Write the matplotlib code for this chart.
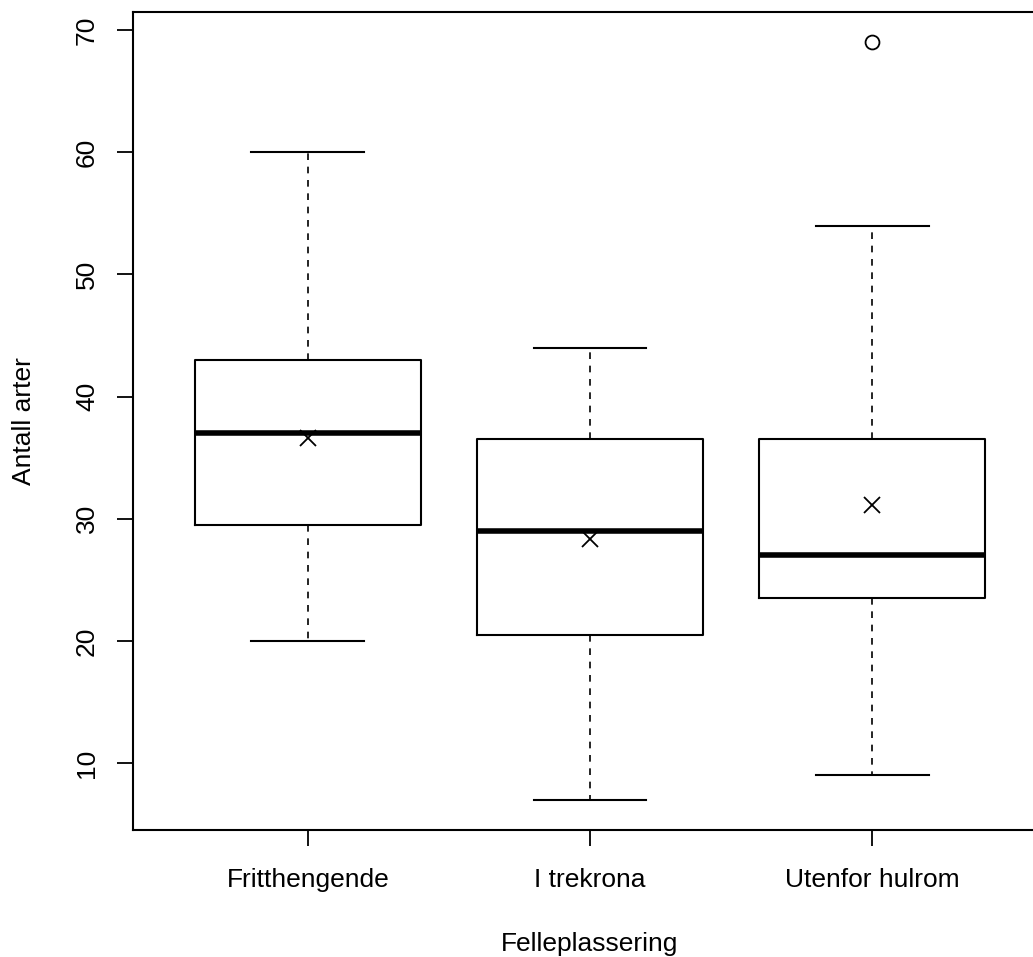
import matplotlib
matplotlib.use("Agg")
import matplotlib.pyplot as plt

plt.rcParams['font.family'] = ['Liberation Sans', 'DejaVu Sans']

# data
groups = ['Fritthengende', 'I trekrona', 'Utenfor hulrom']
whislo = [20, 7, 9]
q1 = [29.5, 20.5, 23.5]
med = [37, 29, 27]
q3 = [43, 36.5, 36.5]
whishi = [60, 44, 54]
means = [36.6, 28.3, 31.1]
fliers = [[], [], [69]]
yticks = [10, 20, 30, 40, 50, 60, 70]

stats = []
for i, g in enumerate(groups):
    stats.append(dict(label=g, whislo=whislo[i], q1=q1[i], med=med[i], q3=q3[i],
                      whishi=whishi[i], mean=means[i], fliers=fliers[i]))

W, H = 1033, 957
fig = plt.figure(figsize=(W / 100, H / 100), dpi=100)
ax = fig.add_axes([133 / W, 127 / H, 914 / W, 818 / H])

pos = [1, 2, 3]
ax.bxp(stats, positions=pos, widths=0.8, capwidths=0.4, showmeans=True,
       boxprops=dict(color='black', linewidth=1.5),
       medianprops=dict(color='black', linewidth=4, solid_capstyle='butt'),
       whiskerprops=dict(color='black', linewidth=1.2, linestyle=(0, (4, 4))),
       capprops=dict(color='black', linewidth=1.5),
       flierprops=dict(marker='o', markersize=10, markerfacecolor='none',
                       markeredgecolor='black', markeredgewidth=1.3),
       meanprops=dict(marker='x', markersize=11, markeredgecolor='black',
                      markeredgewidth=1.3))

fs = 19
ax.set_xlim(0.38, 3.62)
ax.set_ylim(4.52, 71.48)
ax.set_yticks(yticks)
ax.set_yticklabels([str(v) for v in yticks], rotation=90, va='center', fontsize=fs)
ax.set_xticks(pos)
ax.set_xticklabels(groups, fontsize=fs)
ax.tick_params(axis='both', length=11.5, width=1.3)
ax.tick_params(axis='y', pad=13)
ax.tick_params(axis='x', pad=16)
for s in ax.spines.values():
    s.set_linewidth(1.5)

# axis titles placed like R's mtext lines
fig.text(590 / W, 6 / H, 'Felleplassering', fontsize=fs, ha='center', va='baseline')
fig.text(24 / W, (H - 421) / H, 'Antall arter', fontsize=fs, ha='center', va='center',
         rotation=90)

fig.savefig('out.png', dpi=100)
